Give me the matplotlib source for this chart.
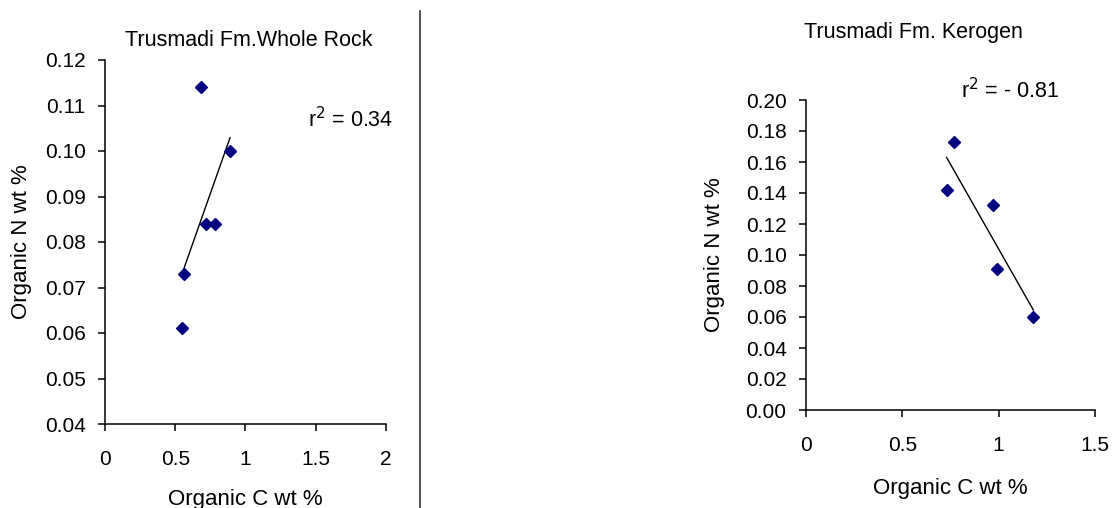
import numpy as np
import matplotlib
matplotlib.use("Agg")
import matplotlib.pyplot as plt
from matplotlib.lines import Line2D

plt.rcParams['font.family'] = ['Liberation Sans', 'DejaVu Sans']

# ---- data ----
wr_title = "Trusmadi Fm.Whole Rock"
wr_c = [0.68, 0.89, 0.72, 0.78, 0.56, 0.55]
wr_n = [0.114, 0.100, 0.084, 0.084, 0.073, 0.061]
wr_r2 = "r$^2$ = 0.34"

ker_title = "Trusmadi Fm. Kerogen"
ker_c = [0.77, 0.73, 0.97, 0.99, 1.18]
ker_n = [0.173, 0.142, 0.132, 0.091, 0.060]
ker_r2 = "r$^2$ = - 0.81"

xlabel = "Organic C wt %"
ylabel = "Organic N wt %"

W, H = 1112, 508
fig = plt.figure(figsize=(W / 100, H / 100), dpi=100)

def px_axes(left, right, top, bottom):
    return fig.add_axes([left / W, 1 - bottom / H, (right - left) / W, (bottom - top) / H])

def style(ax):
    for s in ("top", "right"):
        ax.spines[s].set_visible(False)
    for s in ("left", "bottom"):
        ax.spines[s].set_linewidth(1.1)
    ax.tick_params(direction="out", length=5, width=1.1, labelsize=15, colors="black")
    ax.tick_params(axis="x", pad=14)
    ax.tick_params(axis="y", pad=9)

def scatter_trend(ax, x, y):
    ax.plot(x, y, linestyle="none", marker="D", markersize=6.2,
            color="#000080", clip_on=False, zorder=3)
    k, b = np.polyfit(x, y, 1)
    xs = np.array([min(x), max(x)])
    ax.plot(xs, k * xs + b, color="black", linewidth=1.0, zorder=2)

# Left: whole rock
ax1 = px_axes(105, 386, 60, 424)
scatter_trend(ax1, np.array(wr_c), np.array(wr_n))
ax1.set_xlim(0, 2)
ax1.set_ylim(0.04, 0.12)
ax1.set_xticks([0, 0.5, 1, 1.5, 2])
ax1.set_xticklabels(["0", "0.5", "1", "1.5", "2"])
yt1 = np.arange(0.04, 0.1201, 0.01)
ax1.set_yticks(yt1)
ax1.set_yticklabels([f"{v:.2f}" for v in yt1])
style(ax1)
ax1.set_xlabel(xlabel, fontsize=16, labelpad=14)
ax1.set_ylabel(ylabel, fontsize=16, labelpad=9)
fig.text(249 / W, 1 - 46 / H, wr_title, ha="center", va="baseline", fontsize=15.5)
fig.text(308 / W, 1 - 127 / H, wr_r2, ha="left", va="baseline", fontsize=15.5)

# Right: kerogen
ax2 = px_axes(806, 1095, 100, 410)
scatter_trend(ax2, np.array(ker_c), np.array(ker_n))
ax2.set_xlim(0, 1.5)
ax2.set_ylim(0, 0.2)
ax2.set_xticks([0, 0.5, 1, 1.5])
ax2.set_xticklabels(["0", "0.5", "1", "1.5"])
yt2 = np.arange(0, 0.2001, 0.02)
ax2.set_yticks(yt2)
ax2.set_yticklabels([f"{v:.2f}" for v in yt2])
style(ax2)
ax2.set_xlabel(xlabel, fontsize=16, labelpad=16)
ax2.set_ylabel(ylabel, fontsize=16, labelpad=15)
fig.text(913 / W, 1 - 38 / H, ker_title, ha="center", va="baseline", fontsize=15.5)
fig.text(961 / W, 1 - 98 / H, ker_r2, ha="left", va="baseline", fontsize=15.5)

# vertical divider
fig.add_artist(Line2D([419.5 / W, 419.5 / W], [0, 1 - 11 / H], color="#333333", linewidth=1.2))

fig.savefig("out.png", dpi=100)
